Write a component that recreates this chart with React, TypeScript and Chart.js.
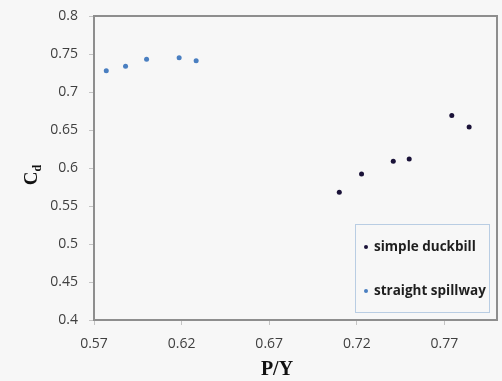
import { useEffect, useRef } from "react";
import { Chart, registerables } from "chart.js";

Chart.register(...registerables);

// Discharge coefficient against P/Y for the two spillway types
const duckbillPY = [0.71, 0.7227, 0.7408, 0.7499, 0.7742, 0.7841];
const duckbillCd = [0.568, 0.592, 0.609, 0.612, 0.669, 0.654];
const spillwayPY = [0.577, 0.588, 0.6, 0.6186, 0.6283];
const spillwayCd = [0.728, 0.734, 0.743, 0.745, 0.741];

const seriesLabels = ["simple duckbill", "straight spillway"];
const seriesColors = ["#1a1238", "#4a7fc1"];

const xTicks = [0.57, 0.62, 0.67, 0.72, 0.77];
const yTicks = [0.4, 0.45, 0.5, 0.55, 0.6, 0.65, 0.7, 0.75, 0.8];
const xTitle = "P/Y";
const yTitleMain = "C";
const yTitleSub = "d";

const BG = "#f7f7f7";

const decorPlugin = {
  id: "decor",
  afterDatasetsDraw(chart: any) {
    const { ctx, chartArea } = chart;
    const { left, top, right, bottom } = chartArea;
    ctx.save();

    // plot frame
    ctx.strokeStyle = "#8e8e8e";
    ctx.lineWidth = 2;
    ctx.strokeRect(left, top, right - left, bottom - top);

    // legend box in the lower right corner of the plot
    const lx = 355.5, ly = 224.5, lw = 134, lh = 88;
    ctx.fillStyle = BG;
    ctx.fillRect(lx, ly, lw, lh);
    ctx.strokeStyle = "#b9cde3";
    ctx.lineWidth = 1;
    ctx.strokeRect(lx, ly, lw, lh);
    ctx.font = "bold 13.5px 'Open Sans'";
    ctx.textBaseline = "middle";
    ctx.textAlign = "left";
    const rows = [247, 291];
    chart.data.datasets.forEach((ds: any, i: number) => {
      ctx.fillStyle = ds.backgroundColor;
      ctx.beginPath();
      ctx.arc(366, rows[i], 2, 0, Math.PI * 2);
      ctx.fill();
      ctx.fillStyle = "#1e1e1e";
      ctx.fillText(ds.label, 374, rows[i]);
    });

    // axis titles
    ctx.fillStyle = "#111";
    ctx.font = "bold 20px 'Liberation Serif'";
    ctx.textAlign = "center";
    ctx.textBaseline = "middle";
    ctx.fillText(xTitle, 277, 370);

    ctx.translate(31, 175);
    ctx.rotate(-Math.PI / 2);
    ctx.textAlign = "left";
    ctx.textBaseline = "alphabetic";
    ctx.font = "bold 19px 'Liberation Serif'";
    const wC = ctx.measureText(yTitleMain).width;
    ctx.font = "bold 12px 'Liberation Serif'";
    const wd = ctx.measureText(yTitleSub).width;
    const x0 = -(wC + wd) / 2;
    ctx.font = "bold 19px 'Liberation Serif'";
    ctx.fillText(yTitleMain, x0, 6);
    ctx.font = "bold 12px 'Liberation Serif'";
    ctx.fillText(yTitleSub, x0 + wC, 10);

    ctx.restore();
  },
};

export default function App() {
  const ref = useRef<HTMLCanvasElement | null>(null);

  useEffect(() => {
    if (!ref.current) return;
    const tickFont = { family: "'Open Sans'", size: 14 };
    const chart = new Chart(ref.current, {
      type: "scatter",
      data: {
        datasets: [
          {
            label: seriesLabels[0],
            data: duckbillPY.map((x, i) => ({ x, y: duckbillCd[i] })),
            backgroundColor: seriesColors[0],
            borderColor: seriesColors[0],
            pointRadius: 2.5,
            borderWidth: 0,
          },
          {
            label: seriesLabels[1],
            data: spillwayPY.map((x, i) => ({ x, y: spillwayCd[i] })),
            backgroundColor: seriesColors[1],
            borderColor: seriesColors[1],
            pointRadius: 2.5,
            borderWidth: 0,
          },
        ],
      },
      options: {
        animation: false,
        responsive: false,
        devicePixelRatio: 1,
        layout: { padding: { top: 16, right: 5, left: 0, bottom: 0 } },
        plugins: {
          legend: { display: false },
          tooltip: { enabled: false },
        },
        scales: {
          x: {
            type: "linear",
            min: 0.57,
            max: 0.8,
            afterBuildTicks: (s: any) => {
              s.ticks = xTicks.map((v) => ({ value: v }));
            },
            afterFit: (s: any) => {
              s.height = 61;
              s.paddingLeft = 0;
              s.paddingRight = 0;
            },
            border: { display: false },
            grid: {
              drawOnChartArea: false,
              drawTicks: true,
              tickLength: 5,
              color: "#c4c4c4",
            },
            ticks: {
              font: tickFont,
              color: "#404040",
              padding: 11,
              callback: (v: any) => Number(v).toFixed(2),
            },
          },
          y: {
            type: "linear",
            min: 0.4,
            max: 0.8,
            afterBuildTicks: (s: any) => {
              s.ticks = yTicks.map((v) => ({ value: v }));
            },
            afterFit: (s: any) => {
              s.width = 94;
              s.paddingTop = 0;
              s.paddingBottom = 0;
            },
            border: { display: false },
            grid: {
              drawOnChartArea: false,
              drawTicks: true,
              tickLength: 5,
              color: "#c4c4c4",
            },
            ticks: {
              font: tickFont,
              color: "#404040",
              padding: 11,
              callback: (v: any) => String(+Number(v).toFixed(2)),
            },
          },
        },
      },
      plugins: [decorPlugin],
    });
    return () => chart.destroy();
  }, []);

  return (
    <div
      style={{
        position: "fixed",
        left: 0,
        top: 0,
        width: 502,
        height: 381,
        background: BG,
      }}
    >
      <canvas ref={ref} width={502} height={381} style={{ display: "block" }} />
    </div>
  );
}
